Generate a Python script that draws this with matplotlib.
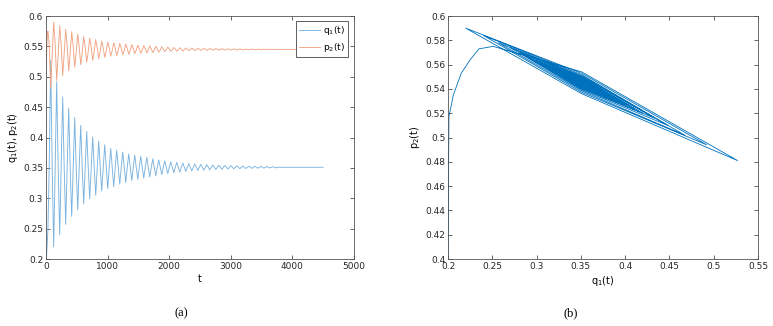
import numpy as np
import matplotlib
matplotlib.use('Agg')
import matplotlib.pyplot as plt
from matplotlib.ticker import FormatStrFormatter

# equilibrium levels read from the flat tails
q1_eq = 0.351
p2_eq = 0.545

# start of the trajectory (before the first oscillation)
t_start = [0, 5, 10, 15, 20, 25, 32]
q1_start = [0.200, 0.201, 0.206, 0.215, 0.225, 0.235, 0.251]
p2_start = [0.400, 0.517, 0.535, 0.553, 0.564, 0.573, 0.575]

# one entry per oscillation cycle (period ~97.5)
t_first_peak = 76
period = 97.5
q1_max = [0.527, 0.492, 0.467, 0.448, 0.433, 0.420, 0.410, 0.401, 0.394, 0.388,
          0.382, 0.379, 0.376, 0.373, 0.371, 0.369, 0.367, 0.365, 0.363, 0.3615,
          0.360, 0.359, 0.358, 0.357, 0.3563, 0.3557, 0.3552, 0.3547, 0.3543, 0.3539,
          0.3536, 0.3533, 0.3530, 0.3528, 0.3526, 0.3524, 0.3522, 0.3520]
q1_min = [0.220, 0.240, 0.257, 0.270, 0.281, 0.291, 0.299, 0.305, 0.312, 0.316,
          0.319, 0.323, 0.326, 0.329, 0.331, 0.333, 0.335, 0.337, 0.339, 0.3405,
          0.342, 0.343, 0.344, 0.345, 0.3457, 0.3463, 0.3468, 0.3473, 0.3477, 0.3481,
          0.3484, 0.3487, 0.3490, 0.3492, 0.3494, 0.3496, 0.3498, 0.3500]
p2_min = [0.481, 0.494, 0.502, 0.510, 0.516, 0.520, 0.524, 0.527, 0.530, 0.532,
          0.534, 0.535, 0.536, 0.537, 0.538, 0.5386, 0.5393, 0.5400, 0.5407, 0.5413,
          0.5418, 0.5422, 0.5425, 0.5429, 0.5431, 0.5433, 0.5435, 0.5437, 0.5438, 0.5440,
          0.5441, 0.5442, 0.5443, 0.5444, 0.5444, 0.5445, 0.5446, 0.5446]
p2_max = [0.590, 0.584, 0.578, 0.574, 0.570, 0.566, 0.5635, 0.561, 0.559, 0.557,
          0.556, 0.555, 0.554, 0.553, 0.5521, 0.5514, 0.5507, 0.5500, 0.5493, 0.5487,
          0.5482, 0.5478, 0.5475, 0.5471, 0.5469, 0.5467, 0.5465, 0.5463, 0.5462, 0.5460,
          0.5459, 0.5458, 0.5457, 0.5456, 0.5456, 0.5455, 0.5454, 0.5454]
# half width of each loop in p2 where q1 crosses its equilibrium
loop_w = [0.009, 0.0078, 0.0066, 0.0057, 0.0049, 0.0042, 0.0036, 0.0031, 0.0027, 0.0024,
          0.0021, 0.0019, 0.0017, 0.0015, 0.0013, 0.0012, 0.0010, 0.0009, 0.0008, 0.0007,
          0.0006, 0.0006, 0.0005, 0.0004, 0.0004, 0.0003, 0.0003, 0.0003, 0.0002, 0.0002,
          0.0002, 0.0002, 0.0001, 0.0001, 0.0001, 0.0001, 0.0001, 0.0001]
t_end = 4500

# assemble the samples: start, then peak / crossing / trough / crossing per cycle
t = list(t_start)
q1 = list(q1_start)
p2 = list(p2_start)
t.append(t_first_peak - period / 4)
q1.append(q1_eq)
p2.append(p2_eq + loop_w[0])
for k in range(len(q1_max)):
    tk = t_first_peak + k * period
    nxt_w = loop_w[k + 1] if k + 1 < len(loop_w) else 0
    t += [tk, tk + period / 4, tk + period / 2, tk + 3 * period / 4]
    q1 += [q1_max[k], q1_eq, q1_min[k], q1_eq]
    p2 += [p2_min[k], p2_eq - loop_w[k], p2_max[k], p2_eq + nxt_w]
t.append(t_end)
q1.append(q1_eq)
p2.append(p2_eq)

fig = plt.figure(figsize=(7.73, 3.26), dpi=100)
ax1 = fig.add_axes([0.0595, 0.2055, 0.3984, 0.7454])
ax2 = fig.add_axes([0.5796, 0.2055, 0.4010, 0.7454])

ax1.plot(t, q1, color='#7ab3e0', lw=0.65, label=r'$\mathregular{q_1(t)}$')
ax1.plot(t, p2, color='#f2a383', lw=0.65, label=r'$\mathregular{p_2(t)}$')
ax1.set_xlim(0, 5000)
ax1.set_ylim(0.2, 0.6)
ax1.set_xticks(np.arange(0, 5001, 1000))
ax1.set_yticks(np.arange(0.2, 0.601, 0.05))
ax1.set_xlabel('t', fontsize=7, labelpad=2)
ax1.set_ylabel(r'$\mathregular{q_1(t),p_2(t)}$', fontsize=7, labelpad=2)
leg = ax1.legend(loc='upper right', fontsize=6.5, fancybox=False, framealpha=1,
                 edgecolor='#444444', handlelength=2.3, borderpad=0.35,
                 labelspacing=0.45, handletextpad=0.3, borderaxespad=0,
                 bbox_to_anchor=(0.98, 0.98))
leg.get_frame().set_linewidth(0.6)

ax2.plot(q1, p2, color='#0072BD', lw=0.6)
ax2.set_xlim(0.2, 0.55)
ax2.set_ylim(0.4, 0.6)
ax2.set_xticks(np.arange(0.2, 0.551, 0.05))
ax2.set_yticks(np.arange(0.4, 0.601, 0.02))
ax2.set_xlabel(r'$\mathregular{q_1(t)}$', fontsize=7, labelpad=2)
ax2.set_ylabel(r'$\mathregular{p_2(t)}$', fontsize=7, labelpad=2)

for ax in (ax1, ax2):
    ax.xaxis.set_major_formatter(FormatStrFormatter('%g'))
    ax.yaxis.set_major_formatter(FormatStrFormatter('%g'))
    ax.tick_params(direction='in', length=3, width=0.5, labelsize=6.5,
                   colors='#262626', top=True, right=True, pad=2)
    for s in ax.spines.values():
        s.set_linewidth(0.6)
        s.set_color('#555555')

fig.text(0.234, 0.04, '(a)', fontsize=9, family='Liberation Serif', ha='center', va='center')
fig.text(0.7387, 0.04, '(b)', fontsize=9, family='Liberation Serif', ha='center', va='center')

fig.savefig('out.png', dpi=100)
